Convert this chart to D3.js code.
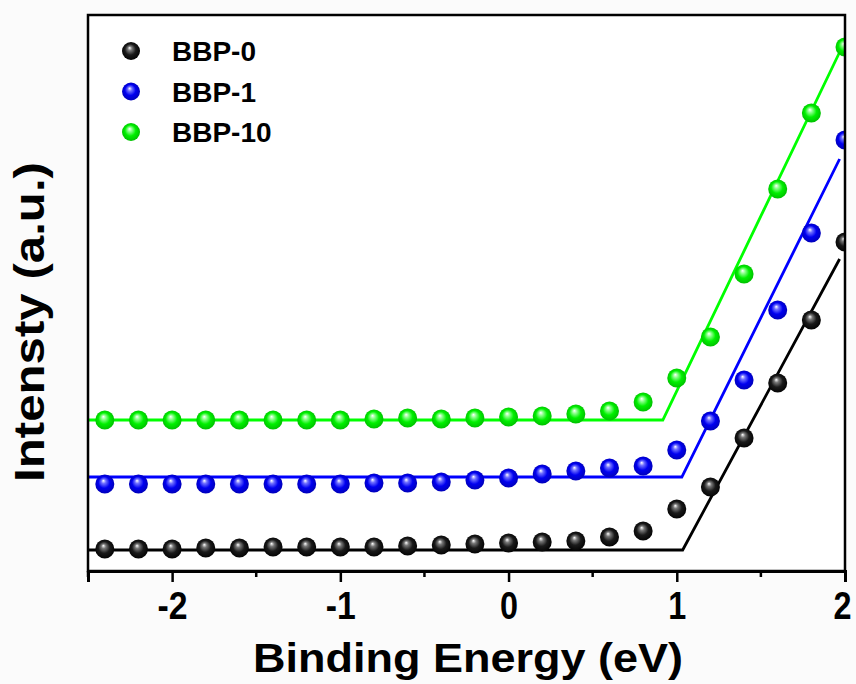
<!DOCTYPE html>
<html>
<head>
<meta charset="utf-8">
<script src="https://cdn.jsdelivr.net/npm/d3@7"></script>
<style>
  body { margin: 0; background: #fbfbfb; }
  #vis { width: 856px; height: 684px; }
  text { font-family: "Liberation Sans", Arial, sans-serif; font-weight: bold; }
</style>
</head>
<body>
<div id="vis"></div>
<script>
var energies = [-2.4, -2.2, -2.0, -1.8, -1.6, -1.4, -1.2, -1.0, -0.8, -0.6, -0.4, -0.2,
                0.0, 0.2, 0.4, 0.6, 0.8, 1.0, 1.2, 1.4, 1.6, 1.8, 2.0];

var bbp0 = [22, 22, 22, 23, 23, 24, 24, 24, 24, 25, 26, 27,
            28, 29, 30, 34, 40, 62, 84, 133, 188, 251, 329];
var bbp1 = [87, 87, 87, 87, 87, 87, 87, 87, 88, 88, 89, 91,
            93, 97, 100, 103, 105, 121, 150, 191, 261, 338, 431];
var bbp10 = [151, 151, 151, 151, 151, 151, 151, 151, 152, 153, 152, 153,
             154, 155, 157, 160, 169, 193, 234, 297, 382, 458, 524];

// linear fits: flat background + onset edge
var fit0 = [[-2.5, 21], [1.035, 21], [1.968, 312]];
var fit1 = [[-2.5, 94], [1.03, 94], [1.968, 412]];
var fit10 = [[-2.5, 151], [0.917, 151], [1.98, 523]];

var seriesNames = ["BBP-0", "BBP-1", "BBP-10"];
var majorTicks = [-2, -1, 0, 1, 2];
var minorTicks = [-2.5, -1.5, -0.5, 0.5, 1.5];

function init()
{
  var margin = {top: 15, right: 11, bottom: 113, left: 88};
  var width = 856 - margin.left - margin.right;
  var height = 684 - margin.top - margin.bottom;

  var colors = ["#000000", "#0000ff", "#00ff00"];
  var shades = [
    ["#ffffff", "#777777", "#1a1a1a", "#000000"],
    ["#ffffff", "#6f6fff", "#0000f0", "#0000b0"],
    ["#ffffff", "#8cff8c", "#00f000", "#00b800"]
  ];

  var svg = d3.select("#vis")
                .append("svg")
                .attr("width", 856)
                .attr("height", 684);

  var defs = svg.append("defs");
  shades.forEach(function(s, i) {
    var g = defs.append("radialGradient")
      .attr("id", "ball" + i)
      .attr("cx", "50%").attr("cy", "50%").attr("r", "55%")
      .attr("fx", "42%").attr("fy", "32%");
    g.append("stop").attr("offset", "0%").attr("stop-color", s[0]);
    g.append("stop").attr("offset", "22%").attr("stop-color", s[1]);
    g.append("stop").attr("offset", "55%").attr("stop-color", s[2]);
    g.append("stop").attr("offset", "100%").attr("stop-color", s[3]);
  });

  defs.append("clipPath")
    .attr("id", "plotclip")
    .append("rect")
    .attr("width", width)
    .attr("height", height);

  var chart = svg.append("g")
    .attr("transform", "translate(" + margin.left + "," + margin.top + ")");

  var xScale = d3.scaleLinear()
    .domain([-2.5, 2])
    .range([0, width]);

  var yScale = d3.scaleLinear()
    .domain([0, 556])
    .range([height, 0]);

  chart.append("rect")
    .attr("width", width)
    .attr("height", height)
    .style("fill", "#ffffff");

  var line = d3.line()
    .x(function(d) {return xScale(d[0]);})
    .y(function(d) {return yScale(d[1]);});

  var plot = chart.append("g").attr("clip-path", "url(#plotclip)");

  [fit0, fit1, fit10].forEach(function(f, i) {
    plot.append("path")
      .datum(f)
      .attr("d", line)
      .style("fill", "none")
      .style("stroke", colors[i])
      .style("stroke-width", "2.8");
  });

  [bbp0, bbp1, bbp10].forEach(function(vals, i) {
    plot.selectAll(".pt" + i)
      .data(vals)
      .enter()
      .append("circle")
        .attr("class", "pt" + i)
        .attr("cx", function(d, j) {return xScale(energies[j]);})
        .attr("cy", function(d) {return yScale(d);})
        .attr("r", 9.5)
        .attr("fill", "url(#ball" + i + ")");
  });

  // frame
  chart.append("rect")
    .attr("width", width)
    .attr("height", height)
    .style("fill", "none")
    .style("stroke", "#000")
    .style("stroke-width", "2.5");

  var xAxis = d3.axisBottom(xScale)
    .tickValues(majorTicks)
    .tickSize(11)
    .tickPadding(10)
    .tickFormat(d3.format("d"));

  var axisG = chart.append("g")
    .attr("transform", "translate(0," + height + ")")
    .call(xAxis);

  axisG.select(".domain")
    .style("stroke-width", "3");
  axisG.selectAll(".tick line")
    .style("stroke-width", "2.5");
  axisG.selectAll(".tick text")
    .style("font-size", "38px")
    .style("font-family", "'Liberation Sans', Arial, sans-serif")
    .style("font-weight", "bold")
    .attr("x", function(d) {return d === 2 ? -3 : 0;})
    .attr("textLength", function(d) {return d < 0 ? 30 : 18;})
    .attr("lengthAdjust", "spacingAndGlyphs")
    .text(function(d) {return d < 0 ? "-" + Math.abs(d) : d;});

  axisG.selectAll(".minor")
    .data(minorTicks)
    .enter()
    .append("line")
      .attr("x1", function(d) {return xScale(d);})
      .attr("x2", function(d) {return xScale(d);})
      .attr("y1", 0)
      .attr("y2", 6)
      .style("stroke", "#000")
      .style("stroke-width", "2.5");

  // legend
  var legend = chart.append("g")
    .attr("class", "legend");

  seriesNames.forEach(function(name, i) {
    legend.append("circle")
      .attr("cx", 43)
      .attr("cy", 36 + i * 40.5)
      .attr("r", 9)
      .attr("fill", "url(#ball" + i + ")");
    legend.append("text")
      .attr("x", 84)
      .attr("y", 36 + i * 40.5 + 10)
      .style("font-size", "28px")
      .text(name);
  });

  // axis titles
  svg.append("text")
    .attr("x", 468)
    .attr("y", 672)
    .attr("text-anchor", "middle")
    .attr("textLength", 430)
    .attr("lengthAdjust", "spacingAndGlyphs")
    .style("font-size", "41px")
    .text("Binding Energy (eV)");

  svg.append("text")
    .attr("transform", "translate(44,322) rotate(-90)")
    .attr("text-anchor", "middle")
    .attr("textLength", 320)
    .attr("lengthAdjust", "spacingAndGlyphs")
    .style("font-size", "42px")
    .text("Intensty (a.u.)");
}

window.onload = init();
</script>
</body>
</html>
